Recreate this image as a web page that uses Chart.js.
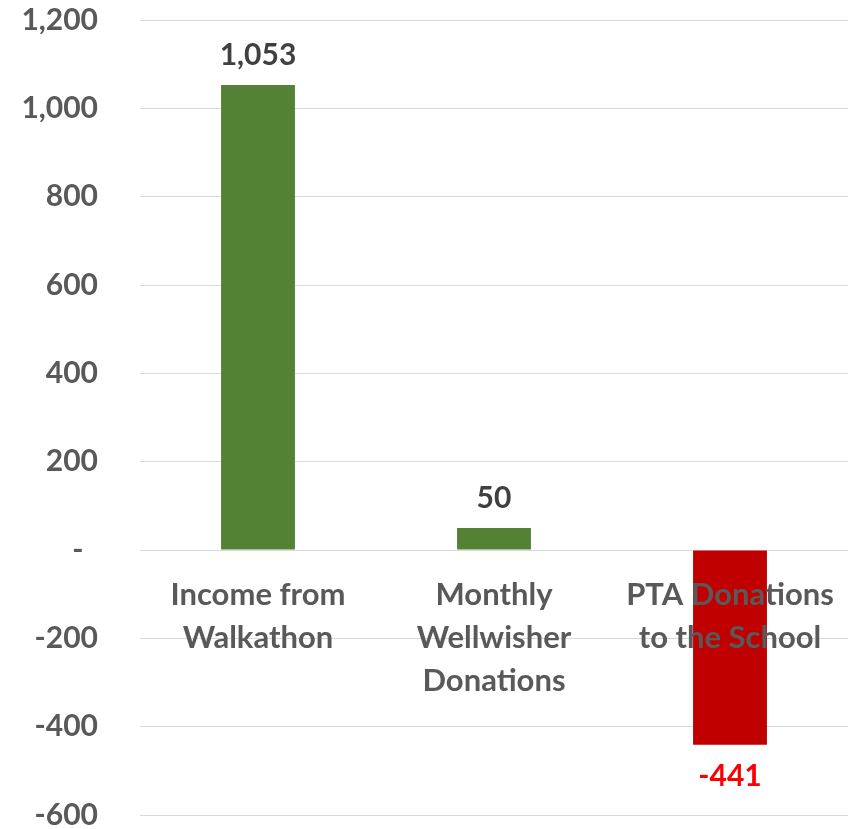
<!DOCTYPE html>
<html>
<head>
<meta charset="utf-8">
<script src="https://cdn.jsdelivr.net/npm/chart.js@4"></script>
<style>
html,body{margin:0;padding:0;background:#fff;}
#wrap{width:856px;height:829px;}
</style>
</head>
<body>
<div id="wrap"><canvas id="c" width="856" height="829"></canvas></div>
<script>
const categories = [["Income from", "Walkathon"], ["Monthly", "Wellwisher", "Donations"], ["PTA Donations", "to the School"]];
const values = [1053, 50, -441];
const barColors = ["#548235", "#548235", "#C00000"];
const labelColors = ["#404040", "#404040", "#FF0000"];
const yTicks = { min: -600, max: 1200, step: 200 };

const FONT = "Lato, 'Open Sans', sans-serif";

const overlayText = {
  id: 'overlayText',
  afterDatasetsDraw(chart) {
    const ctx = chart.ctx;
    const meta = chart.getDatasetMeta(0);
    const y0 = chart.scales.y.getPixelForValue(0);
    ctx.save();
    ctx.textAlign = 'center';
    ctx.textBaseline = 'middle';
    ctx.font = "bold 31px " + FONT;
    ctx.fillStyle = '#595959';
    meta.data.forEach((bar, i) => {
      categories[i].forEach((line, j) => {
        ctx.fillText(line, bar.x, y0 + 45 + j * 43);
      });
    });
    ctx.font = "bold 30px " + FONT;
    meta.data.forEach((bar, i) => {
      const v = values[i];
      ctx.fillStyle = labelColors[i];
      const y = v >= 0 ? bar.y - 30 : bar.y + 32;
      ctx.fillText(v.toLocaleString('en-US'), bar.x, y);
    });
    ctx.restore();
  }
};

new Chart(document.getElementById('c'), {
  type: 'bar',
  data: {
    labels: categories.map(c => c.join(' ')),
    datasets: [{
      data: values,
      backgroundColor: barColors,
      borderWidth: 0,
      categoryPercentage: 1,
      barPercentage: 0.313
    }]
  },
  options: {
    responsive: false,
    animation: false,
    layout: { padding: { top: 20, bottom: 14, right: 8, left: 0 } },
    plugins: { legend: { display: false }, tooltip: { enabled: false } },
    scales: {
      x: { display: false },
      y: {
        min: yTicks.min,
        max: yTicks.max,
        afterFit(scale) { scale.width = 140; scale.paddingTop = 0; scale.paddingBottom = 0; },
        grid: { color: '#D9D9D9', lineWidth: 1, drawTicks: false },
        border: { display: false },
        ticks: {
          stepSize: yTicks.step,
          padding: 42,
          color: '#595959',
          font: { family: FONT, size: 30, weight: 'bold' },
          callback: (v) => v === 0 ? '-  ' : v.toLocaleString('en-US')
        }
      }
    }
  },
  plugins: [overlayText]
});
</script>
</body>
</html>
